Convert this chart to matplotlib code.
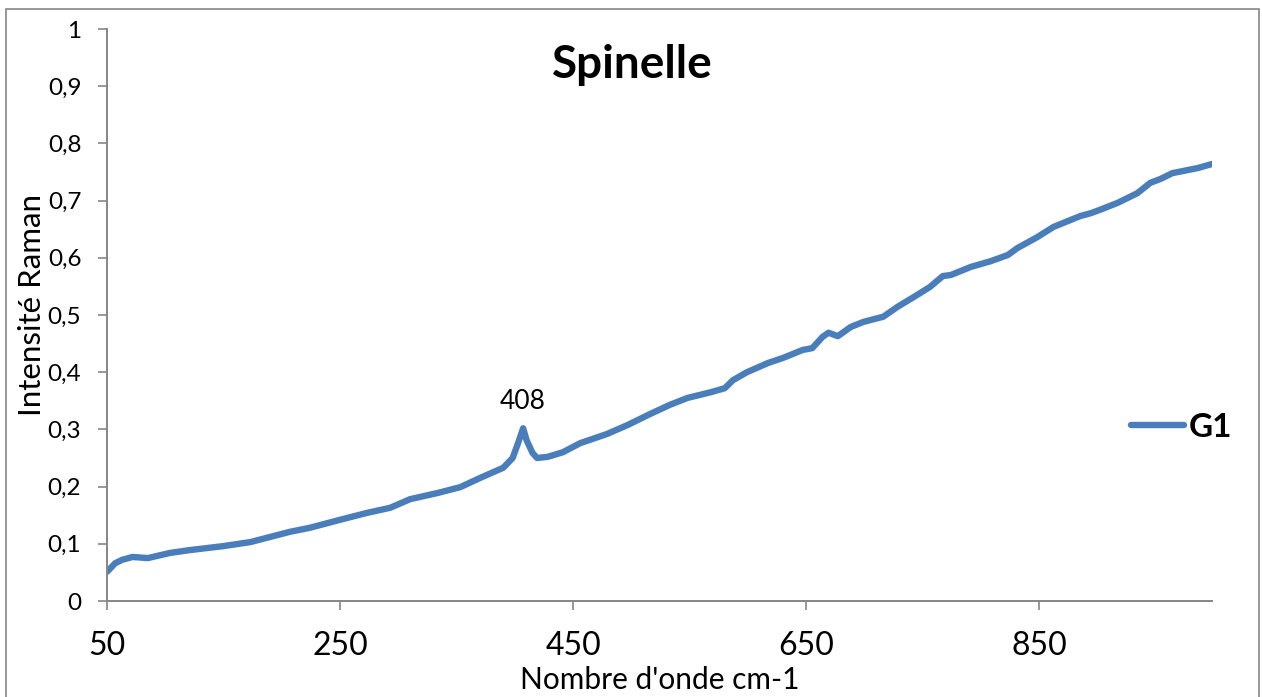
import numpy as np
import matplotlib
matplotlib.use("Agg")
import matplotlib.pyplot as plt
from matplotlib.patches import Rectangle

# spectrum
wavenumber = [50, 57, 63, 72, 85, 104, 121, 150, 173, 190, 207, 224, 250, 273, 293,
              310, 334, 353, 370, 390, 398, 403, 407, 410, 415, 419, 428, 441, 456,
              479, 497, 516, 533, 548, 568, 580, 587, 599, 617, 630, 647, 655, 664,
              669, 677, 688, 699, 716, 728, 745, 756, 767, 774, 791, 808, 823, 831,
              848, 862, 885, 894, 902, 917, 934, 945, 954, 964, 986, 998]
intensity = [0.051, 0.066, 0.072, 0.077, 0.075, 0.084, 0.089, 0.096, 0.103, 0.112,
             0.121, 0.128, 0.142, 0.154, 0.163, 0.178, 0.189, 0.199, 0.215, 0.233,
             0.250, 0.278, 0.302, 0.281, 0.259, 0.250, 0.252, 0.260, 0.276, 0.292,
             0.308, 0.327, 0.343, 0.355, 0.365, 0.372, 0.386, 0.400, 0.416, 0.425,
             0.439, 0.442, 0.462, 0.469, 0.463, 0.479, 0.488, 0.497, 0.514, 0.535,
             0.549, 0.568, 0.570, 0.584, 0.594, 0.605, 0.617, 0.636, 0.654, 0.673,
             0.678, 0.684, 0.696, 0.713, 0.731, 0.738, 0.748, 0.757, 0.764]

peak_x = 407
peak_y = 0.302
peak_label = "408"

x_ticks = [50, 250, 450, 650, 850]
y_ticks = [0, 0.1, 0.2, 0.3, 0.4, 0.5, 0.6, 0.7, 0.8, 0.9, 1.0]
y_labels = ["0", "0,1", "0,2", "0,3", "0,4", "0,5", "0,6", "0,7", "0,8", "0,9", "1"]

plt.rcParams['font.family'] = ['Lato', 'DejaVu Sans']
grey = '#868686'
blue = '#4A7EBB'

fig = plt.figure(figsize=(12.62, 6.97), dpi=100)
ax = fig.add_axes([107/1262, 1 - 601/697, (1212-107)/1262, (601-29)/697])

ax.plot(wavenumber, intensity, color=blue, linewidth=4.6,
        solid_capstyle='round', solid_joinstyle='round', label='G1')

ax.set_xlim(50, 998)
ax.set_ylim(0, 1)
ax.set_xticks(x_ticks)
ax.set_xticklabels([str(t) for t in x_ticks], fontsize=23)
ax.set_yticks(y_ticks)
ax.set_yticklabels(y_labels, fontsize=17.5)

for side in ['top', 'right']:
    ax.spines[side].set_visible(False)
for side in ['left', 'bottom']:
    ax.spines[side].set_color(grey)
    ax.spines[side].set_linewidth(1.4)
ax.tick_params(axis='both', color=grey, width=1.2, length=6.5, direction='out')
ax.tick_params(axis='y', pad=12)
ax.tick_params(axis='x', pad=15)

# peak annotation
ax.annotate(peak_label, (peak_x, peak_y), xytext=(0, 14), textcoords='offset points',
            ha='center', va='baseline', fontsize=19)

# legend on the right
leg = ax.legend(loc='center left', bbox_to_anchor=(1131/1262, 1 - 427/697),
                bbox_transform=fig.transFigure, frameon=False, handlelength=1.6,
                handletextpad=0.12, borderpad=0, borderaxespad=0,
                prop={'weight': 'bold', 'size': 24})

fig.text(632/1262, 1 - 78/697, "Spinelle", ha='center', va='baseline',
         fontsize=33, fontweight='bold')
fig.text(32/1262, 1 - 305/697, "Intensité Raman", rotation=90, ha='center',
         va='center', fontsize=22.5)
fig.text(660/1262, 1 - 689/697, "Nombre d'onde cm-1", ha='center', va='baseline',
         fontsize=21.5)

# outer chart border
fig.patches.append(Rectangle((6/1262, -0.02), (1259-6)/1262, 1.02 - 9/697,
                             transform=fig.transFigure, fill=False,
                             edgecolor=grey, linewidth=1.2))

fig.savefig("out.png", dpi=100)
